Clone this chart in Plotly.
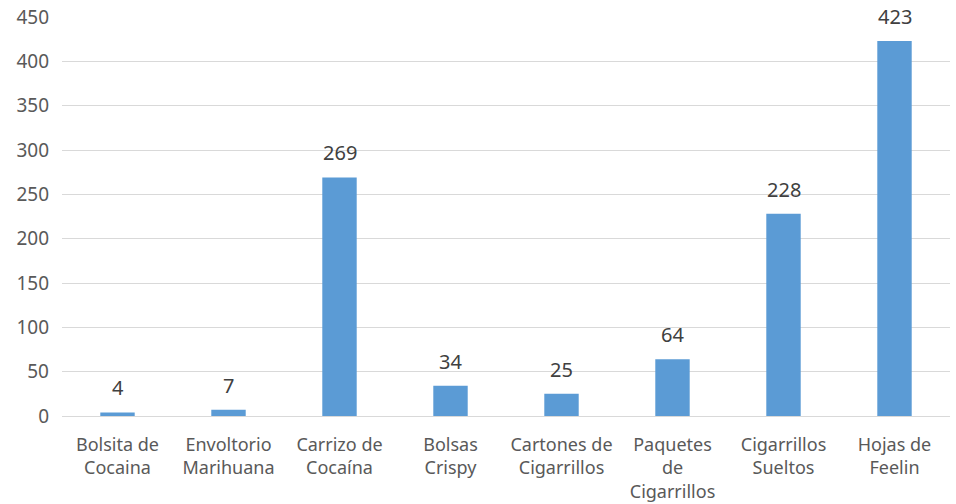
import plotly.graph_objects as go

categories = ["Bolsita de<br>Cocaina", "Envoltorio<br>Marihuana", "Carrizo de<br>Cocaína",
              "Bolsas<br>Crispy", "Cartones de<br>Cigarrillos", "Paquetes<br>de<br>Cigarrillos",
              "Cigarrillos<br>Sueltos", "Hojas de<br>Feelin"]
values = [4, 7, 269, 34, 25, 64, 228, 423]
y_ticks = [0, 50, 100, 150, 200, 250, 300, 350, 400, 450]

fig = go.Figure(go.Bar(
    x=categories, y=values,
    marker=dict(color="#5B9BD5", line=dict(width=0)),
    width=0.31, hoverinfo="x+y",
))

for c, v in zip(categories, values):
    fig.add_annotation(x=c, y=v, text=str(v), showarrow=False, yanchor="bottom",
                       yshift=9, font=dict(family="Noto Sans", size=20, color="#404040"))

fig.update_layout(
    width=956, height=504,
    margin=dict(l=62, r=6, t=17, b=88),
    plot_bgcolor="white", paper_bgcolor="white",
    showlegend=False,
    font=dict(family="Noto Sans", size=18, color="#595959"),
    xaxis=dict(showgrid=False, showline=False, ticks="", automargin=False,
               ticklabelstandoff=16,
               tickfont=dict(size=18, color="#595959")),
    yaxis=dict(range=[0, 450], tickvals=y_ticks, showgrid=True, gridcolor="#D9D9D9", gridwidth=1,
               zeroline=True, zerolinecolor="#D9D9D9", zerolinewidth=1, showline=False, ticks="",
               automargin=False, ticklabelstandoff=12,
               tickfont=dict(size=19, color="#595959")),
)

fig.write_html("out.html", config={"displayModeBar": False},
               post_script="document.body.style.margin='0';")
